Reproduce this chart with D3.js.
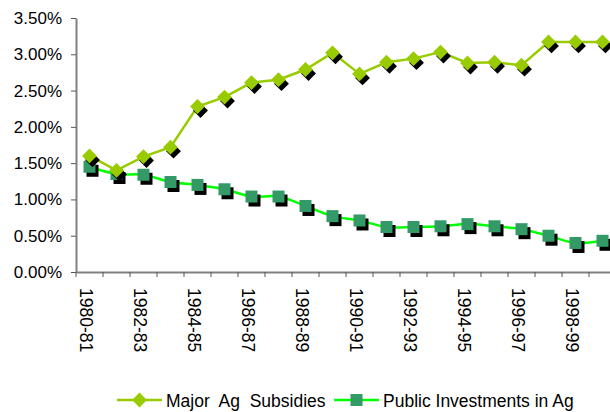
<!DOCTYPE html>
<html>
<head>
<meta charset="utf-8">
<script src="https://cdn.jsdelivr.net/npm/d3@7"></script>
<style>
    body { margin: 0; background: #fff; }
    svg { display: block; font-family: "Liberation Sans", Arial, sans-serif; }
    .leftAxis text, .bottomAxis text { font-size: 17px; fill: #000; }
    .bottomAxis text { font-size: 17.5px; }
    .legend text { font-size: 17.5px; fill: #000; }
</style>
</head>
<body>
<div id="graphDiv"></div>
<script>
const categories = ["1980-81", "1981-82", "1982-83", "1983-84", "1984-85", "1985-86", "1986-87",
    "1987-88", "1988-89", "1989-90", "1990-91", "1991-92", "1992-93", "1993-94", "1994-95",
    "1995-96", "1996-97", "1997-98", "1998-99", "1999-00"]

// share of GDP, in percent
const majorSubsidies = [1.60, 1.40, 1.59, 1.72, 2.28, 2.41, 2.61, 2.65, 2.79, 3.02,
    2.73, 2.89, 2.94, 3.03, 2.88, 2.89, 2.85, 3.17, 3.17, 3.17]
const publicInvestments = [1.45, 1.35, 1.34, 1.24, 1.20, 1.14, 1.04, 1.04, 0.91, 0.77,
    0.71, 0.62, 0.62, 0.63, 0.66, 0.63, 0.59, 0.50, 0.40, 0.43]

const yTicks = [0, 0.5, 1.0, 1.5, 2.0, 2.5, 3.0, 3.5]
const xLabels = categories.filter((d, i) => i % 2 === 0)

const seriesNames = ["Major  Ag  Subsidies", "Public Investments in Ag"]

const margin = { left: 76, top: 18 }
const graph_height = 272
const band = 27

const xScale = d3.scaleBand()
    .domain(categories)
    .range([margin.left, margin.left + band * categories.length])
    .padding(0)

const yScale = d3.scaleLinear()
    .domain([0, 3.5])
    .range([graph_height, margin.top])

const svg = d3.select("#graphDiv")
    .append("svg")
    .attr("width", 610)
    .attr("height", 412)

const cx = d => xScale(d) + xScale.bandwidth() / 2

// y-axis
const leftAxis = d3.axisLeft(yScale)
    .tickValues(yTicks)
    .tickFormat(d => d.toFixed(2) + "%")
    .tickSize(5)
    .tickSizeOuter(0)
    .tickPadding(9)

const leftAxisGroup = svg.append("g")
    .attr("class", "leftAxis")
    .attr("transform", `translate(${margin.left},0)`)
    .call(leftAxis)
leftAxisGroup.select(".domain").attr("stroke", "#808080").attr("stroke-width", 2)
leftAxisGroup.selectAll(".tick line").attr("stroke", "#555")

// x-axis, labels every second year, rotated
const bottomAxis = d3.axisBottom(xScale)
    .tickValues(xLabels)
    .tickSize(0)
    .tickSizeOuter(0)

const bottomAxisGroup = svg.append("g")
    .attr("class", "bottomAxis")
    .attr("transform", `translate(0,${graph_height})`)
    .call(bottomAxis)
bottomAxisGroup.select(".domain").attr("stroke", "#808080").attr("stroke-width", 2)
bottomAxisGroup.selectAll(".tick text")
    .attr("x", 0)
    .attr("y", 0)
    .attr("dy", null)
    .attr("text-anchor", "start")
    .attr("transform", "translate(-10,16) rotate(90)")

// category separators
svg.append("g")
    .selectAll("line")
    .data(categories)
    .enter()
    .append("line")
    .attr("x1", d => xScale(d))
    .attr("x2", d => xScale(d))
    .attr("y1", graph_height)
    .attr("y2", graph_height + 5)
    .attr("stroke", "#555")

const diamond = d3.symbol(d3.symbolSquare, 110)()
const square = d3.symbol(d3.symbolSquare, 144)()

const drawSeries = (values, opts) => {
    const pts = categories.map((c, i) => ({ c, v: values[i] }))
    const line = d3.line()
        .x(d => cx(d.c))
        .y(d => yScale(d.v))
        .curve(opts.curve)

    const g = svg.append("g")

    g.append("path")
        .datum(pts)
        .attr("d", line)
        .attr("fill", "none")
        .attr("stroke", opts.lineColor)
        .attr("stroke-width", 2.5)

    g.selectAll(".shadow")
        .data(pts)
        .enter()
        .append("path")
        .attr("class", "shadow")
        .attr("d", opts.shape)
        .attr("fill", "#000")
        .attr("transform", d => `translate(${cx(d.c) + 3},${yScale(d.v) + 4}) rotate(${opts.rotate})`)

    g.selectAll(".marker")
        .data(pts)
        .enter()
        .append("path")
        .attr("class", "marker")
        .attr("d", opts.shape)
        .attr("fill", opts.markerColor)
        .attr("transform", d => `translate(${cx(d.c)},${yScale(d.v)}) rotate(${opts.rotate})`)
}

drawSeries(publicInvestments, {
    lineColor: "#00ff00", markerColor: "#339966", shape: square, rotate: 0,
    curve: d3.curveCatmullRom.alpha(0.5)
})
drawSeries(majorSubsidies, {
    lineColor: "#99cc00", markerColor: "#99cc00", shape: diamond, rotate: 45,
    curve: d3.curveLinear
})

// legend
const legendItems = [
    { name: seriesNames[0], x: 117, lineColor: "#99cc00", markerColor: "#99cc00", shape: diamond, rotate: 45 },
    { name: seriesNames[1], x: 334, lineColor: "#00ff00", markerColor: "#339966", shape: square, rotate: 0 }
]

const legend = svg.append("g").attr("class", "legend")
legendItems.forEach(item => {
    const g = legend.append("g").attr("transform", `translate(${item.x},400)`)
    g.append("line")
        .attr("x1", 0).attr("x2", 45)
        .attr("y1", 0).attr("y2", 0)
        .attr("stroke", item.lineColor)
        .attr("stroke-width", 2.5)
    g.append("path")
        .attr("d", item.shape)
        .attr("fill", item.markerColor)
        .attr("transform", `translate(22.5,0) rotate(${item.rotate})`)
    g.append("text")
        .attr("x", 49)
        .attr("y", 6.5)
        .style("white-space", "pre")
        .attr("xml:space", "preserve")
        .text(item.name)
})
</script>
</body>
</html>
